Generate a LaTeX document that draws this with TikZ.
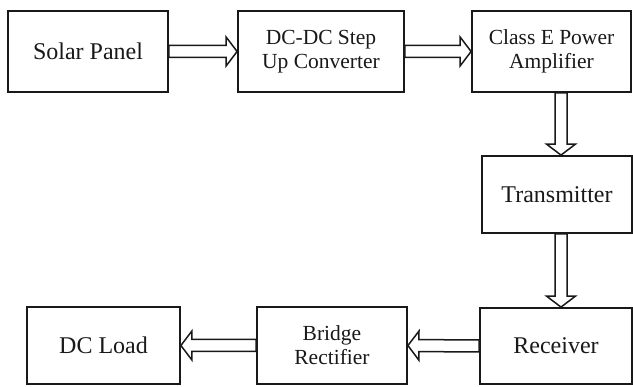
\documentclass[tikz,border=0pt]{standalone}
\usepackage{fontspec}
\setmainfont{Liberation Serif}
\usetikzlibrary{calc}
\newcommand\blockarrow[2]{%
  \coordinate (ah) at ($(#2)!11pt!(#1)$);
  \draw[arr] ($(#1)!6pt!90:(#2)$) -- ($(ah)!6pt!90:(#2)$) -- ($(ah)!14.5pt!90:(#2)$) -- (#2)
    -- ($(ah)!14.5pt!-90:(#2)$) -- ($(ah)!6pt!-90:(#2)$) -- ($(#1)!6pt!-90:(#2)$) -- cycle;}
\begin{document}
\begin{tikzpicture}[x=1pt,y=-1pt,
  blk/.style={draw=black!90, line width=1.8pt, inner sep=0pt, align=center, text=black!90},
  big/.style={font=\fontsize{24}{28}\selectfont},
  small/.style={font=\fontsize{21.5}{24}\selectfont},
  arr/.style={draw=black!90, line width=1.5pt, line join=miter, fill=white}]
\useasboundingbox[fill=white] (0,0) rectangle (633,387);
\node[blk,big,minimum width=160pt,minimum height=81pt] (solar) at (88,51.5) {Solar Panel};
\node[blk,small,minimum width=166pt,minimum height=81pt] (dcdc) at (321,51.5) {DC-DC Step\\Up Converter};
\node[blk,small,minimum width=159pt,minimum height=81pt] (classe) at (551.5,51.5) {Class E Power\\Amplifier};
\node[blk,big,minimum width=150pt,minimum height=77pt] (trans) at (557,194.5) {Transmitter};
\node[blk,big,minimum width=152pt,minimum height=76pt] (recv) at (556,346) {Receiver};
\node[blk,small,minimum width=150pt,minimum height=77pt] (bridge) at (332,345.5) {Bridge\\Rectifier};
\node[blk,big,minimum width=153pt,minimum height=77pt] (load) at (103.5,345.5) {DC Load};
\coordinate (vx) at (561,0);
\coordinate (t1) at (vx |- classe.south);
\coordinate (t2) at (vx |- trans.north);
\coordinate (t3) at (vx |- trans.south);
\coordinate (t4) at (vx |- recv.north);
\blockarrow{solar.east}{dcdc.west}
\blockarrow{dcdc.east}{classe.west}
\blockarrow{t1}{t2}
\blockarrow{t3}{t4}
\blockarrow{recv.west}{bridge.east}
\blockarrow{bridge.west}{load.east}
\end{tikzpicture}
\end{document}
